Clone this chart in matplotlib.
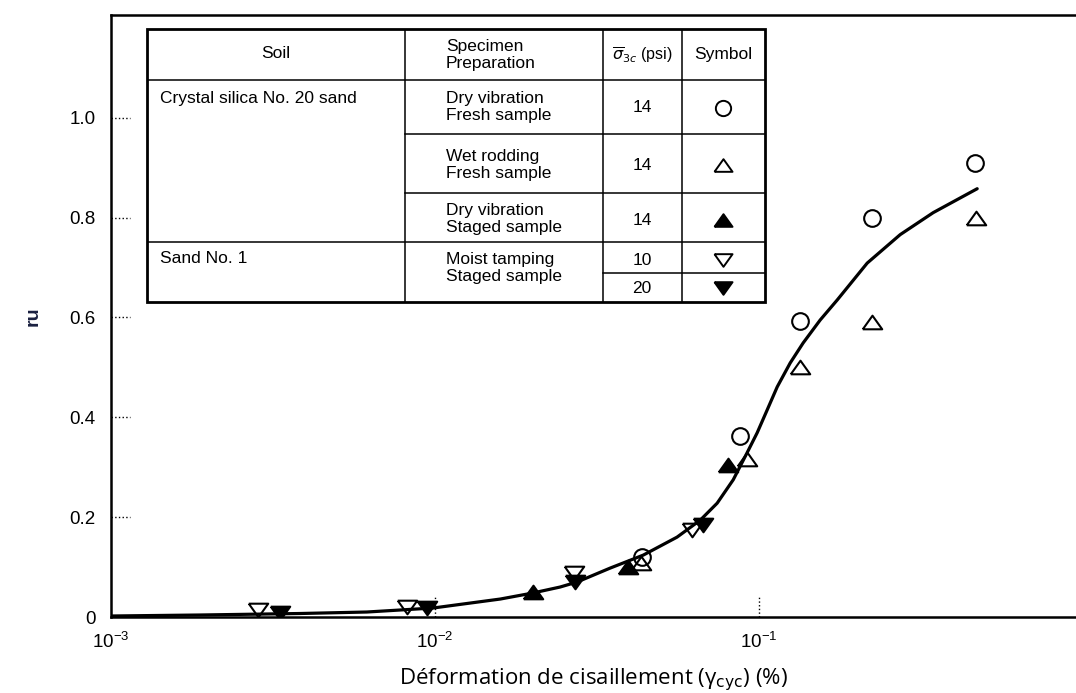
import numpy as np
import matplotlib.pyplot as plt
from matplotlib.patches import Rectangle

plt.rcParams['font.family'] = ['Liberation Sans', 'DejaVu Sans']

# symbols (x = shear strain %, y = ru)
circle_x = [0.0435, 0.0873, 0.134, 0.223, 0.464]
circle_y = [0.12, 0.363, 0.593, 0.80, 0.91]
open_up_x = [0.0432, 0.0918, 0.134, 0.223, 0.468]
open_up_y = [0.108, 0.317, 0.50, 0.59, 0.80]
filled_up_x = [0.0200, 0.0394, 0.0802]
filled_up_y = [0.05, 0.10, 0.305]
open_down_x = [0.00284, 0.0082, 0.0268, 0.0621]
open_down_y = [0.014, 0.02, 0.088, 0.174]
filled_down_x = [0.00332, 0.00945, 0.0270, 0.0672]
filled_down_y = [0.008, 0.018, 0.07, 0.184]

# fitted curve
curve_x = [0.001, 0.00188, 0.00383, 0.00616, 0.00986, 0.0159, 0.0200, 0.0243,
           0.0274, 0.0347, 0.0439, 0.0558, 0.0658, 0.0742, 0.0832, 0.0918,
           0.0986, 0.1059, 0.1137, 0.1247, 0.1367, 0.1543, 0.1741, 0.2155,
           0.2724, 0.3443, 0.4708]
curve_y = [0.002, 0.004, 0.007, 0.010, 0.018, 0.036, 0.048, 0.060, 0.070,
           0.098, 0.124, 0.160, 0.194, 0.228, 0.275, 0.329, 0.369, 0.415,
           0.461, 0.509, 0.549, 0.595, 0.635, 0.709, 0.766, 0.810, 0.858]

yticks = [0, 0.2, 0.4, 0.6, 0.8, 1.0]
ytick_labels = ['0', '0.2', '0.4', '0.6', '0.8', '1.0']
xticks = [1e-3, 1e-2, 1e-1]

# table contents
soils = ['Crystal silica No. 20 sand', 'Sand No. 1']
preps = ['Dry vibration\nFresh sample', 'Wet rodding\nFresh sample',
         'Dry vibration\nStaged sample', 'Moist tamping\nStaged sample']
sigmas = ['14', '14', '14', '10', '20']

# flattened triangles like the scanned ones
tri_up = [(-1, -0.7), (1, -0.7), (0, 0.7), (-1, -0.7)]
tri_down = [(-1, 0.7), (1, 0.7), (0, -0.7), (-1, 0.7)]

fig = plt.figure(figsize=(10.76, 6.93), dpi=100)
ax = fig.add_axes([111/1076, 76/693, 1 - 111/1076, (617-15)/693])

ax.plot(curve_x, curve_y, color='k', lw=2.3, zorder=2,
        solid_joinstyle='round', solid_capstyle='round')
mk = dict(ls='none', mec='k', mew=1.5, zorder=3)
ax.plot(circle_x, circle_y, marker='o', ms=12, mfc='none', **mk)
ax.plot(open_up_x, open_up_y, marker=tri_up, ms=14, mfc='none', **mk)
ax.plot(filled_up_x, filled_up_y, marker=tri_up, ms=14, mfc='k', **mk)
ax.plot(open_down_x, open_down_y, marker=tri_down, ms=14, mfc='none', **mk)
ax.plot(filled_down_x, filled_down_y, marker=tri_down, ms=14, mfc='k', **mk)

ax.set_xscale('log')
ax.set_xlim(1e-3, 0.95)
ax.set_ylim(0, 1.206)
ax.set_xticks(xticks)
ax.xaxis.set_minor_locator(plt.NullLocator())
ax.set_yticks(yticks)
ax.set_yticklabels(ytick_labels)
ax.tick_params(length=0, labelsize=13.5, pad=11)

# dotted tick marks pointing inward
for y in yticks[1:]:
    ax.plot([0, 0.02], [y, y], transform=ax.get_yaxis_transform(),
            ls=':', color='k', lw=1)
for x in xticks[1:]:
    ax.plot([x, x], [0, 0.035], transform=ax.get_xaxis_transform(),
            ls=':', color='k', lw=1)

ax.spines['right'].set_visible(False)
for s in ['left', 'bottom', 'top']:
    ax.spines[s].set_linewidth(1.8)

ax.set_ylabel('ru', fontsize=14, fontweight='bold', color='#1a2040', labelpad=20)
ax.set_xlabel('Déformation de cisaillement (γ$_{\\mathrm{cyc}}$) (%)',
              fontsize=16, family=['Open Sans', 'DejaVu Sans'], labelpad=10)

# table / legend box (pixel coordinates of the figure)
tab = fig.add_axes([147/1076, 1 - 302/693, (765-147)/1076, (302-29)/693])
tab.set_xlim(147, 765)
tab.set_ylim(302, 29)
tab.axis('off')
tab.add_patch(Rectangle((147, 29), 618, 273, fill=False, lw=2, ec='k',
                        clip_on=False))
c1, c2, c3 = 405, 603, 682
ln = dict(color='k', lw=1.1)
for c in (c1, c2, c3):
    tab.plot([c, c], [29, 302], **ln)
tab.plot([147, 765], [80, 80], **ln)
tab.plot([c1, 765], [134, 134], **ln)
tab.plot([c1, 765], [193, 193], **ln)
tab.plot([147, 765], [242, 242], **ln)
tab.plot([c2, 765], [273, 273], **ln)

fs = 12.5
tab.text(276, 54, 'Soil', ha='center', va='center', fontsize=fs)
tab.text(446, 55, 'Specimen\nPreparation', ha='left', va='center',
         fontsize=fs, linespacing=1.1)
tab.text(642, 55, r'$\overline{\sigma}_{3c}$ (psi)', ha='center', va='center',
         fontsize=11.5)
tab.text(723, 54, 'Symbol', ha='center', va='center', fontsize=fs)
tab.text(160, 98, soils[0], ha='left', va='center', fontsize=fs)
tab.text(160, 258, soils[1], ha='left', va='center', fontsize=fs)
for yy, txt in zip([107, 165, 219, 268], preps):
    tab.text(446, yy, txt, ha='left', va='center', fontsize=fs,
             linespacing=1.1)
sig_y = [108, 165, 220, 260, 288]
for yy, txt in zip(sig_y, sigmas):
    tab.text(642, yy, txt, ha='center', va='center', fontsize=fs)
tab.plot(723, sig_y[0], marker='o', ms=11, mfc='none', mec='k', mew=1.4)
tab.plot(723, sig_y[1], marker=tri_up, ms=13, mfc='none', mec='k', mew=1.4)
tab.plot(723, sig_y[2], marker=tri_up, ms=13, mfc='k', mec='k', mew=1.4)
tab.plot(723, sig_y[3], marker=tri_down, ms=13, mfc='none', mec='k', mew=1.4)
tab.plot(723, sig_y[4], marker=tri_down, ms=13, mfc='k', mec='k', mew=1.4)

fig.savefig('out.png', dpi=100)
